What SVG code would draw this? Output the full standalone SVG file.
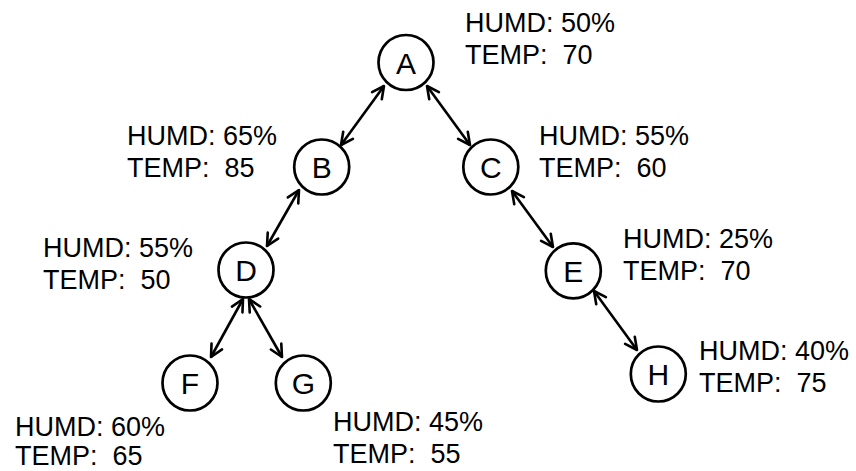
<svg xmlns="http://www.w3.org/2000/svg" width="856" height="471" viewBox="0 0 856 471">
<defs>
<marker id="ah" viewBox="-14 -8 16 16" markerWidth="16" markerHeight="16" refX="0" refY="0" orient="auto-start-reverse" markerUnits="userSpaceOnUse">
<path d="M-12,-6 L0,0 L-12,6" fill="none" stroke="#000" stroke-width="2.6" stroke-linecap="round" stroke-linejoin="round"/>
</marker>
</defs>
<style>
.node circle{fill:#fff;stroke:#000;stroke-width:2.7}
.node text.n{font-family:"Liberation Sans",Arial,sans-serif;font-size:30px;text-anchor:middle;fill:#000}
.lbl{font-family:"Liberation Sans",Arial,sans-serif;font-size:27px;fill:#000}
.edge{stroke:#000;stroke-width:2.6;fill:none;marker-start:url(#ah);marker-end:url(#ah)}
</style>
<rect width="856" height="471" fill="#fff"/>
<g id="connectors">
<line class="edge" x1="384" y1="86" x2="341" y2="145"/>
<line class="edge" x1="427" y1="86" x2="470" y2="145"/>
<line class="edge" x1="299" y1="190" x2="267" y2="246"/>
<line class="edge" x1="512" y1="191" x2="553" y2="247"/>
<line class="edge" x1="594" y1="291" x2="637" y2="350"/>
<line class="edge" x1="243" y1="299" x2="211" y2="357"/>
<line class="edge" x1="249" y1="299" x2="282" y2="357"/>
</g>
<g id="A" class="node"><circle cx="406" cy="62.5" r="27.5"/><text class="n" x="406" y="73.5">A</text>
<text class="lbl" x="465" y="32">HUMD: 50%</text><text class="lbl" x="465" y="64" xml:space="preserve">TEMP:  70</text></g>
<g id="B" class="node"><circle cx="321.7" cy="167" r="27.5"/><text class="n" x="321.7" y="178">B</text>
<text class="lbl" x="127" y="145">HUMD: 65%</text><text class="lbl" x="127" y="177" xml:space="preserve">TEMP:  85</text></g>
<g id="C" class="node"><circle cx="490.8" cy="167" r="27.5"/><text class="n" x="490.8" y="178">C</text>
<text class="lbl" x="539" y="145">HUMD: 55%</text><text class="lbl" x="539" y="177" xml:space="preserve">TEMP:  60</text></g>
<g id="D" class="node"><circle cx="246" cy="270" r="27.5"/><text class="n" x="246" y="281">D</text>
<text class="lbl" x="43" y="257">HUMD: 55%</text><text class="lbl" x="43" y="289" xml:space="preserve">TEMP:  50</text></g>
<g id="E" class="node"><circle cx="573.3" cy="270.8" r="27.5"/><text class="n" x="573.3" y="281.8">E</text>
<text class="lbl" x="623" y="248">HUMD: 25%</text><text class="lbl" x="623" y="280" xml:space="preserve">TEMP:  70</text></g>
<g id="F" class="node"><circle cx="190" cy="383" r="27.5"/><text class="n" x="190" y="394">F</text>
<text class="lbl" x="15" y="436">HUMD: 60%</text><text class="lbl" x="15" y="465" xml:space="preserve">TEMP:  65</text></g>
<g id="G" class="node"><circle cx="303.3" cy="383" r="27.5"/><text class="n" x="303.3" y="394">G</text>
<text class="lbl" x="333" y="431">HUMD: 45%</text><text class="lbl" x="333" y="463" xml:space="preserve">TEMP:  55</text></g>
<g id="H" class="node"><circle cx="658.3" cy="374" r="27.5"/><text class="n" x="658.3" y="385">H</text>
<text class="lbl" x="699" y="360">HUMD: 40%</text><text class="lbl" x="699" y="392" xml:space="preserve">TEMP:  75</text></g>
</svg>
